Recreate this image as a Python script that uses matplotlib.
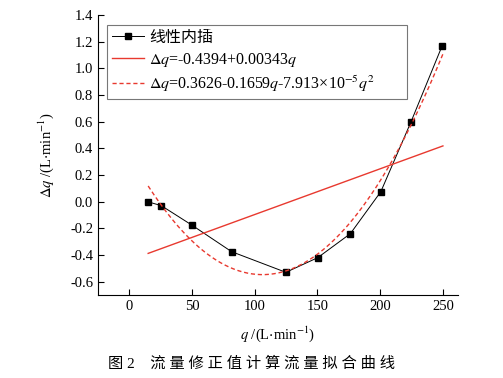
import numpy as np
import matplotlib
matplotlib.use('Agg')
import matplotlib.pyplot as plt

plt.rcParams['font.family'] = ['Liberation Serif', 'Noto Sans CJK SC']
plt.rcParams['mathtext.fontset'] = 'stix'

# 数据
q = [14.5, 25.5, 49.7, 81.5, 124.8, 150.2, 176.2, 200.5, 224.6, 249.2]
dq = [0.0, -0.03, -0.175, -0.375, -0.53, -0.42, -0.24, 0.075, 0.60, 1.165]

# 拟合系数（线性）
lin_a, lin_b = -0.4394, 0.00343

q_fit = np.linspace(15, 250, 200)
quad = np.polyfit(q, dq, 2)  # 二次拟合

fig = plt.figure(figsize=(5.03, 3.78), dpi=100)
ax = fig.add_axes([0.1948, 0.2196, 0.7157, 0.7407])

ax.plot(q, dq, color='black', lw=0.7, marker='s', ms=4.5,
        label='线性内插')
ax.plot(q_fit, lin_a + lin_b * q_fit, color='#e8392f', lw=1.0,
        label=r'$\Delta q$=-0.4394+0.00343$q$')
ax.plot(q_fit, np.polyval(quad, q_fit),
        color='#e8392f', lw=1.0, ls=(0, (3, 2)),
        label=r'$\Delta q$=0.3626-0.1659$q$-7.913×10$^{-5}$$q^2$')

ax.set_xlim(-25, 262)
ax.set_ylim(-0.7, 1.4)
ax.set_xticks([0, 50, 100, 150, 200, 250])
ax.set_yticks(np.arange(-0.6, 1.41, 0.2))
ax.set_yticklabels(['%.1f' % v for v in np.arange(-0.6, 1.41, 0.2)])
ax.tick_params(direction='in', labelsize=10.5, length=4, width=0.8)
ax.spines['top'].set_visible(False)
ax.spines['right'].set_visible(False)
for s in ['left', 'bottom']:
    ax.spines[s].set_linewidth(0.8)

ax.set_xlabel(r'$q$ /(L$\cdot$min$^{-1}$)', fontsize=10.5, labelpad=8)
ax.set_ylabel(r'$\Delta q$ /(L$\cdot$min$^{-1}$)', fontsize=10.5, labelpad=10)

# 图例（右侧留白，和原图一致）
leg = ax.legend(loc='upper left', bbox_to_anchor=(0.025, 0.964, 0.833, 0.0),
                mode='expand', fontsize=11.5,
                frameon=True, fancybox=False, edgecolor='#555555',
                handlelength=2.0, borderpad=0.3, labelspacing=0.3,
                handletextpad=0.35, borderaxespad=0)
leg.get_frame().set_linewidth(0.8)

fig.text(0.5, 0.02, '图 2    流 量 修 正 值 计 算 流 量 拟 合 曲 线',
         ha='center', va='bottom', fontsize=11)

fig.savefig('out.png', dpi=100)
